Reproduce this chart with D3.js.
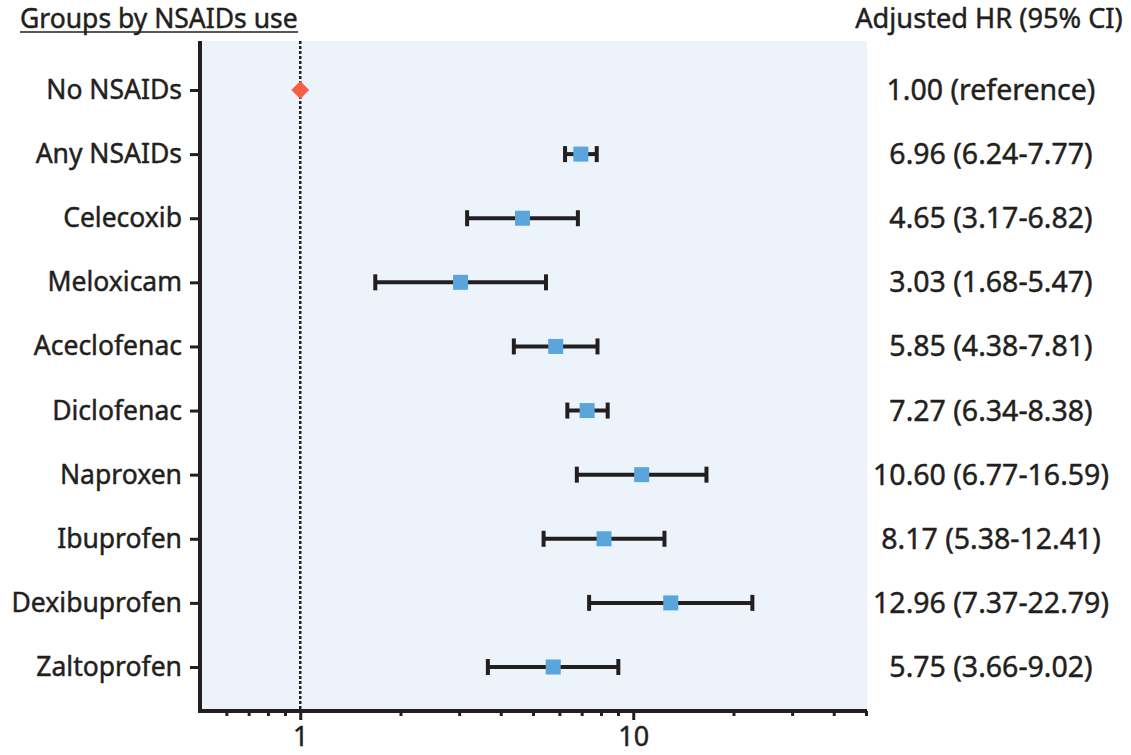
<!DOCTYPE html>
<html>
<head>
<meta charset="utf-8">
<script src="https://cdn.jsdelivr.net/npm/d3@7"></script>
<style>
  body { margin: 0; background: #fff; }
  text { font-family: "Noto Sans", sans-serif; fill: #231f20; stroke: #231f20; stroke-width: 0.45px; }
</style>
</head>
<body>
<svg id="chart" width="1131" height="755"></svg>
<script>
// data
var groups = ["No NSAIDs", "Any NSAIDs", "Celecoxib", "Meloxicam", "Aceclofenac", "Diclofenac", "Naproxen", "Ibuprofen", "Dexibuprofen", "Zaltoprofen"];
var hr = [1.00, 6.96, 4.65, 3.03, 5.85, 7.27, 10.60, 8.17, 12.96, 5.75];
var lower = [null, 6.24, 3.17, 1.68, 4.38, 6.34, 6.77, 5.38, 7.37, 3.66];
var upper = [null, 7.77, 6.82, 5.47, 7.81, 8.38, 16.59, 12.41, 22.79, 9.02];
var hrLabels = ["1.00 (reference)", "6.96 (6.24-7.77)", "4.65 (3.17-6.82)", "3.03 (1.68-5.47)", "5.85 (4.38-7.81)", "7.27 (6.34-8.38)", "10.60 (6.77-16.59)", "8.17 (5.38-12.41)", "12.96 (7.37-22.79)", "5.75 (3.66-9.02)"];
var majorTicks = [1, 10];
var minorTicks = [0.6, 0.7, 0.8, 0.9, 2, 3, 4, 5, 6, 7, 8, 9, 20, 30, 40, 50];

var svg = d3.select("#chart");
var ink = "#231f20";
var plotTop = 41, plotBottom = 711, plotLeft = 200, plotRight = 866;

var x = d3.scaleLog().domain([0.5, 50]).range([plotLeft, plotRight]);
var y = d3.scalePoint().domain(d3.range(groups.length)).range([90, 667]);

// plot background
svg.append("rect").attr("x", plotLeft).attr("y", plotTop).attr("width", plotRight - plotLeft + 1).attr("height", plotBottom - plotTop - 2).attr("fill", "#ecf3fb");

// reference line at HR = 1
svg.append("line").attr("x1", x(1)).attr("x2", x(1)).attr("y1", plotTop).attr("y2", plotBottom - 2)
  .attr("stroke", ink).attr("stroke-width", 2.5).attr("stroke-dasharray", "3,2");

// x axis: minor + major ticks
var gx = svg.append("g").attr("transform", "translate(0," + plotBottom + ")");
gx.call(d3.axisBottom(x).tickValues(minorTicks).tickSize(5).tickFormat(""));
gx.selectAll(".tick line").attr("stroke", ink).attr("stroke-width", 3);
var gx2 = svg.append("g").attr("transform", "translate(0," + plotBottom + ")");
gx2.call(d3.axisBottom(x).tickValues(majorTicks).tickSize(9).tickPadding(7).tickFormat(d3.format("d")));
gx2.selectAll(".tick line").attr("stroke", ink).attr("stroke-width", 3);
gx2.selectAll(".tick text").attr("font-size", 27).attr("font-family", "Noto Sans").attr("fill", ink);
svg.selectAll(".domain").remove();
svg.append("line").attr("x1", plotLeft - 2).attr("x2", plotRight + 1).attr("y1", plotBottom).attr("y2", plotBottom)
  .attr("stroke", ink).attr("stroke-width", 4);

// y axis
var gy = svg.append("g").attr("transform", "translate(" + plotLeft + ",0)");
gy.call(d3.axisLeft(y).tickSize(10).tickPadding(8).tickFormat(function (i) { return groups[i]; }));
gy.select(".domain").remove();
gy.selectAll(".tick line").attr("stroke", ink).attr("stroke-width", 3);
gy.selectAll(".tick text").attr("font-size", 26.5).attr("font-family", "Noto Sans").attr("fill", ink);
svg.append("line").attr("x1", plotLeft).attr("x2", plotLeft).attr("y1", plotTop).attr("y2", plotBottom + 2)
  .attr("stroke", ink).attr("stroke-width", 4);

// error bars
var rows = d3.range(groups.length).filter(function (i) { return lower[i] != null; });
var ci = svg.append("g");
ci.selectAll("line.ci").data(rows).enter().append("line").attr("class", "ci")
  .attr("x1", function (i) { return x(lower[i]); }).attr("x2", function (i) { return x(upper[i]); })
  .attr("y1", function (i) { return y(i); }).attr("y2", function (i) { return y(i); })
  .attr("stroke", ink).attr("stroke-width", 4);
ci.selectAll("line.lo").data(rows).enter().append("line").attr("class", "lo")
  .attr("x1", function (i) { return x(lower[i]); }).attr("x2", function (i) { return x(lower[i]); })
  .attr("y1", function (i) { return y(i) - 8; }).attr("y2", function (i) { return y(i) + 8; })
  .attr("stroke", ink).attr("stroke-width", 4);
ci.selectAll("line.hi").data(rows).enter().append("line").attr("class", "hi")
  .attr("x1", function (i) { return x(upper[i]); }).attr("x2", function (i) { return x(upper[i]); })
  .attr("y1", function (i) { return y(i) - 8; }).attr("y2", function (i) { return y(i) + 8; })
  .attr("stroke", ink).attr("stroke-width", 4);

// point estimates
ci.selectAll("rect.hr").data(rows).enter().append("rect").attr("class", "hr")
  .attr("x", function (i) { return x(hr[i]) - 7.5; }).attr("y", function (i) { return y(i) - 7.5; })
  .attr("width", 15).attr("height", 15).attr("fill", "#5aa5dc");
svg.append("path").attr("d", d3.symbol(d3.symbolSquare, 160)())
  .attr("transform", "translate(" + x(hr[0]) + "," + y(0) + ") rotate(45)")
  .attr("fill", "#f65f47");

// right column
svg.selectAll("text.hrlab").data(hrLabels).enter().append("text").attr("class", "hrlab")
  .attr("x", 991).attr("y", function (d, i) { return y(i); }).attr("dy", "0.35em")
  .attr("text-anchor", "middle").attr("font-size", 28.5).text(function (d) { return d; });

// headers
svg.append("text").attr("x", 20).attr("y", 28).attr("font-size", 26.5).text("Groups by NSAIDs use");
svg.append("line").attr("x1", 20).attr("x2", 298).attr("y1", 32).attr("y2", 32).attr("stroke", ink).attr("stroke-width", 1.5);
svg.append("text").attr("x", 989).attr("y", 28).attr("text-anchor", "middle").attr("font-size", 27.2).text("Adjusted HR (95% CI)");
</script>
</body>
</html>
